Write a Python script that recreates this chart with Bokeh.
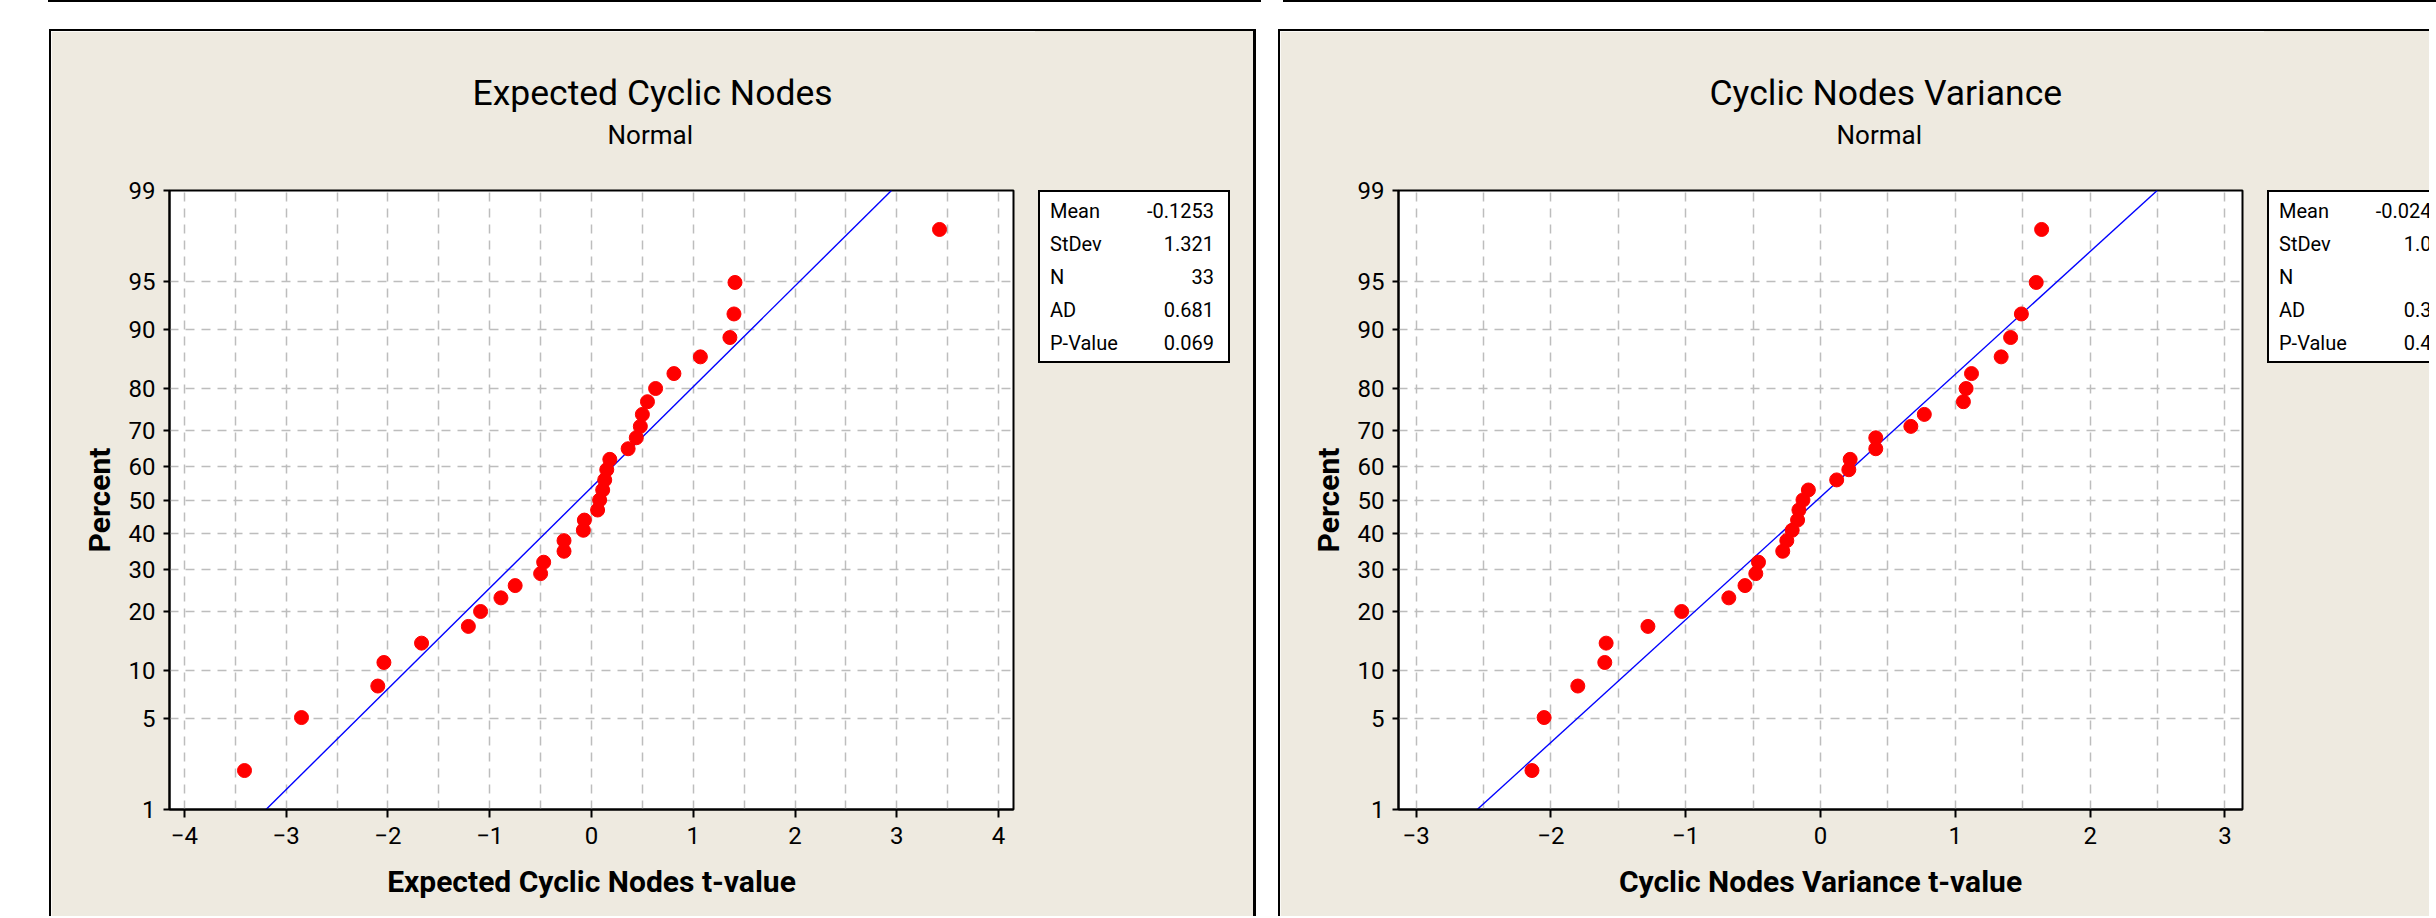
from statistics import NormalDist
from bokeh.plotting import figure
from bokeh.models import FixedTicker, CustomJSTickFormatter, Div, Title
from bokeh.layouts import row, column
from bokeh.embed import file_html
from bokeh.resources import INLINE

# ---------------- data ----------------
percent_ticks = [1, 5, 10, 20, 30, 40, 50, 60, 70, 80, 90, 95, 99]
percent_labels = ["1", "5", "10", "20", "30", "40", "50", "60", "70", "80", "90", "95", "99"]

# plotted percentiles of the 33 ranked points
point_percent = [2.1, 5.1, 8.1, 11.1, 14.1, 17.1, 20.1, 23.1, 26.0, 29.0, 32.0, 35.0,
                 38.0, 41.0, 44.0, 47.0, 50.0, 53.0, 56.0, 59.0, 62.0, 65.0, 68.0,
                 71.0, 74.0, 77.0, 79.9, 82.9, 85.9, 88.9, 91.9, 94.9, 97.9]

ecn_t = [-3.41, -2.85, -2.10, -2.04, -1.67, -1.21, -1.09, -0.89, -0.75, -0.50, -0.47,
         -0.27, -0.27, -0.08, -0.07, 0.06, 0.08, 0.11, 0.13, 0.15, 0.18, 0.36, 0.44,
         0.48, 0.50, 0.55, 0.63, 0.81, 1.07, 1.36, 1.40, 1.41, 3.42]
ecn_mean, ecn_sd = -0.1253, 1.321
ecn_stat_names = ["Mean", "StDev", "N", "AD", "P-Value"]
ecn_stat_values = ["-0.1253", "1.321", "33", "0.681", "0.069"]

cnv_t = [-2.14, -2.05, -1.80, -1.60, -1.59, -1.28, -1.03, -0.68, -0.56, -0.48, -0.46,
         -0.28, -0.25, -0.21, -0.17, -0.16, -0.13, -0.09, 0.12, 0.21, 0.22, 0.41, 0.41,
         0.67, 0.77, 1.06, 1.08, 1.12, 1.34, 1.41, 1.49, 1.60, 1.64]
cnv_mean, cnv_sd = -0.02436, 1.084
cnv_stat_names = ["Mean", "StDev", "N", "AD", "P-Value"]
cnv_stat_values = ["-0.02436", "1.084", "33", "0.353", "0.452"]

ecn_xticks = [-4, -3, -2, -1, 0, 1, 2, 3, 4]
cnv_xticks = [-3, -2, -1, 0, 1, 2, 3]

# ---------------- style ----------------
BEIGE = "#EEEAE0"
GRID = "#BDBDBD"
FONT = "Roboto"
nd = NormalDist()
Z_LO, Z_HI = nd.inv_cdf(0.01), nd.inv_cdf(0.99)
FRAME_W, FRAME_H = 844, 619
CANVAS_H = 887
TOP = 159
BOTTOM = CANVAS_H - TOP - FRAME_H
LEFT = 118
MAIN_W = 986


def main_panel(title, title_off, xlabel, xs, mean, sd, xlim, xticks, mleft):
    p = figure(width=MAIN_W, height=CANVAS_H, x_range=(-xlim, xlim), y_range=(Z_LO, Z_HI),
               output_backend="svg", toolbar_location=None, title=None,
               min_border_left=LEFT, min_border_right=MAIN_W - LEFT - FRAME_W,
               min_border_top=TOP, min_border_bottom=BOTTOM,
               background_fill_color="white", border_fill_color=BEIGE,
               outline_line_color="black", outline_line_width=2,
               margin=(27, 0, 0, mleft),
               styles={"border-left": "2px solid black", "border-top": "2px solid black"})
    zt = [nd.inv_cdf(v / 100) for v in percent_ticks]
    p.yaxis.ticker = FixedTicker(ticks=zt)
    p.yaxis.formatter = CustomJSTickFormatter(args=dict(zs=zt, labels=percent_labels), code="""
        let bi = 0;
        for (let j = 0; j < zs.length; j++) {
            if (Math.abs(zs[j] - tick) < Math.abs(zs[bi] - tick)) bi = j;
        }
        return labels[bi];
    """)
    p.xaxis.ticker = FixedTicker(ticks=xticks)
    half = [k / 2 for k in range(-2 * int(xlim) - 1, 2 * int(xlim) + 2)]
    p.xgrid.ticker = FixedTicker(ticks=half)
    for g in (p.xgrid, p.ygrid):
        g.grid_line_color = GRID
        g.grid_line_dash = "9 7"
        g.grid_line_width = 1.5
    for ax in (p.xaxis, p.yaxis):
        ax.axis_line_color = "black"
        ax.axis_line_width = 2
        ax.major_tick_line_color = "black"
        ax.major_tick_line_width = 2
        ax.major_tick_in = 0
        ax.minor_tick_line_color = None
        ax.major_label_text_font = FONT
        ax.major_label_text_font_size = "24px"
        ax.major_label_text_color = "black"
        ax.axis_label_text_font = FONT
        ax.axis_label_text_font_size = "30px"
        ax.axis_label_text_font_style = "bold"
        ax.axis_label_text_color = "black"
    p.yaxis.major_tick_out = 6
    p.yaxis.major_label_standoff = 8
    p.yaxis.axis_label = "Percent"
    p.yaxis.axis_label_standoff = 9
    p.xaxis.major_tick_out = 8
    p.xaxis.major_label_standoff = 9
    p.xaxis.axis_label = xlabel
    p.xaxis.axis_label_standoff = 17

    ys = [nd.inv_cdf(v / 100) for v in point_percent]
    p.line([mean + sd * Z_LO, mean + sd * Z_HI], [Z_LO, Z_HI], color="#0000FF", line_width=1.4)
    p.scatter(xs, ys, size=14, color="#FF0000", line_color="#FF0000")

    # invisible spacer between frame and subtitle, then subtitle, then main title
    p.add_layout(Title(text="\u200b", align="left", standoff=37, text_font=FONT,
                       text_font_size="2px", text_color=BEIGE), "above")
    p.add_layout(Title(text="Normal", align="left", offset=438, standoff=0,
                       vertical_align="bottom", text_font=FONT, text_font_size="26px",
                       text_font_style="normal", text_color="black"), "above")
    p.add_layout(Title(text=title, align="left", offset=title_off, standoff=7,
                       vertical_align="bottom", text_font=FONT, text_font_size="35.5px",
                       text_font_style="normal", text_color="black"), "above")
    return p


def stats_div(names, values, width, box_w, bstyle):
    rows = "".join(
        '<div style="display:flex;justify-content:space-between;height:33px;line-height:33px;'
        'white-space:nowrap;">'
        f'<span>{n}</span><span>{v}</span></div>'
        for n, v in zip(names, values))
    box = (f'<div style="margin:159px 0 0 3px;width:{box_w}px;min-width:{box_w}px;height:173px;'
           'box-sizing:border-box;border:2px solid black;background:white;'
           f'padding:3px 14px 0 10px;font-family:{FONT};font-size:20px;color:black;">'
           f'{rows}</div>')
    st = {"background-color": BEIGE, "overflow": "hidden"}
    st.update(bstyle)
    return Div(text=box, width=width, height=CANVAS_H, margin=(27, 0, 0, 0), styles=st)


p1 = main_panel("Expected Cyclic Nodes", 303, "Expected Cyclic Nodes t-value", ecn_t,
                ecn_mean, ecn_sd, 4.147, ecn_xticks, 49)
s1 = stats_div(ecn_stat_names, ecn_stat_values, 1258 - 1037, 192,
               {"border-top": "2px solid black", "border-right": "3px solid black"})
p2 = main_panel("Cyclic Nodes Variance", 311, "Cyclic Nodes Variance t-value", cnv_t,
                cnv_mean, cnv_sd, 3.13, cnv_xticks, 22)
s2 = stats_div(cnv_stat_names, cnv_stat_values, 2436 - 1285 - MAIN_W, 203,
               {"border-top": "2px solid black"})

d1 = Div(text="", width=1213, height=2, margin=(0, 0, 0, 48), styles={"background-color": "black"})
d2 = Div(text="", width=1153, height=2, margin=(0, 0, 0, 22), styles={"background-color": "black"})

layout = column(row(d1, d2), row(p1, s1, p2, s2))
open("out.html", "w").write(file_html(layout, INLINE))
